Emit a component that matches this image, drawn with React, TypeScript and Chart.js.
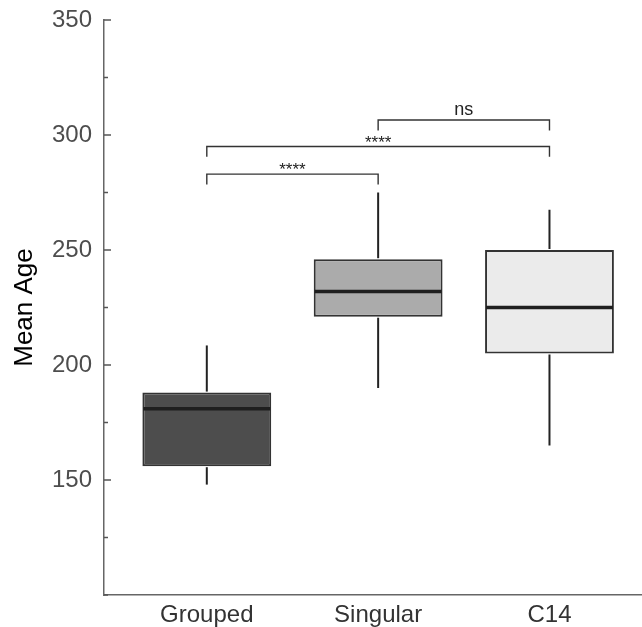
import React, { useEffect, useRef } from "react";
import { Chart, registerables } from "chart.js";

Chart.register(...registerables);

const categories = ["Grouped", "Singular", "C14"];
const whiskerLow = [148, 190, 165];
const q1 = [156, 221, 205];
const median = [181, 232, 225];
const q3 = [188, 246, 250];
const whiskerHigh = [208.5, 275, 267.5];
const boxColors = ["#4d4d4d", "#ababab", "#ebebeb"];

const yTickLabels = [150, 200, 250, 300, 350];

const bracketFrom = [1, 1, 2];
const bracketTo = [2, 3, 3];
const bracketLevel = [283, 295, 306.5];
const bracketDrop = [4.5, 4.5, 4.5];
const bracketLabels = ["****", "****", "ns"];

const FONT = "'Liberation Sans', Arial, Helvetica, sans-serif";

const extrasPlugin = {
  id: "boxExtras",
  afterDatasetsDraw(chart: any) {
    const { ctx, scales } = chart;
    const x = scales.x;
    const y = scales.y;
    const meta = chart.getDatasetMeta(0);
    ctx.save();
    const line = (x1: number, y1: number, x2: number, y2: number) => {
      ctx.beginPath();
      ctx.moveTo(x1, y1);
      ctx.lineTo(x2, y2);
      ctx.stroke();
    };
    categories.forEach((_, i) => {
      const bar = meta.data[i];
      const cx = x.getPixelForValue(i + 1);
      const half = bar.width / 2;
      ctx.strokeStyle = "#222";
      ctx.lineWidth = 2;
      line(cx, y.getPixelForValue(whiskerHigh[i]), cx, y.getPixelForValue(q3[i]) - 1);
      line(cx, y.getPixelForValue(q1[i]) + 1, cx, y.getPixelForValue(whiskerLow[i]));
      ctx.strokeStyle = "#1f1f1f";
      ctx.lineWidth = 3.5;
      const my = y.getPixelForValue(median[i]);
      line(cx - half + 1, my, cx + half - 1, my);
    });
    // significance brackets
    bracketLabels.forEach((lab, i) => {
      const x1 = x.getPixelForValue(bracketFrom[i]);
      const x2 = x.getPixelForValue(bracketTo[i]);
      const yl = y.getPixelForValue(bracketLevel[i]);
      const yd = y.getPixelForValue(bracketLevel[i] - bracketDrop[i]);
      ctx.strokeStyle = "#333";
      ctx.lineWidth = 1.4;
      ctx.beginPath();
      ctx.moveTo(x1, yd);
      ctx.lineTo(x1, yl);
      ctx.lineTo(x2, yl);
      ctx.lineTo(x2, yd);
      ctx.stroke();
      ctx.fillStyle = "#222";
      ctx.textAlign = "center";
      ctx.textBaseline = "alphabetic";
      if (lab === "ns") {
        ctx.font = `18px ${FONT}`;
        ctx.fillText(lab, (x1 + x2) / 2, yl - 5);
      } else {
        ctx.font = `17px ${FONT}`;
        ctx.fillText(lab, (x1 + x2) / 2, yl + 1);
      }
    });
    // inward ticks on y axis
    ctx.strokeStyle = "#555";
    ctx.lineWidth = 1.5;
    y.ticks.forEach((t: any) => {
      const py = y.getPixelForValue(t.value);
      const len = yTickLabels.includes(t.value) ? 7 : 4;
      line(y.right, py, y.right + len, py);
    });
    ctx.restore();
  },
};

export default function App() {
  const ref = useRef<HTMLCanvasElement>(null);
  useEffect(() => {
    const chart = new Chart(ref.current as HTMLCanvasElement, {
      type: "bar",
      data: {
        datasets: [
          {
            data: categories.map((_, i) => ({ x: i + 1, y: [q1[i], q3[i]] })) as any,
            backgroundColor: boxColors,
            borderColor: "#333",
            borderWidth: 2,
            borderSkipped: false,
            barPercentage: 0.94,
            categoryPercentage: 0.8,
          },
        ],
      },
      options: {
        animation: false,
        responsive: false,
        layout: { padding: { top: 20, right: 0, left: 0, bottom: 0 } },
        plugins: { legend: { display: false }, tooltip: { enabled: false } },
        scales: {
          x: {
            type: "linear",
            offset: false,
            min: 0.4,
            max: 3.54,
            grid: { display: false, drawTicks: false, offset: false },
            border: { display: true, color: "#666", width: 1.5 },
            afterBuildTicks: (s: any) => {
              s.ticks = categories.map((_, i) => ({ value: i + 1 }));
            },
            afterFit: (s: any) => {
              s.height = 32;
              s.paddingLeft = 0;
              s.paddingRight = 0;
            },
            ticks: {
              autoSkip: false,
              maxRotation: 0,
              padding: 6,
              color: "#333",
              font: { family: FONT, size: 24 },
              callback: (v: any) => categories[Math.round(v) - 1] ?? "",
            },
          },
          y: {
            min: 100,
            max: 350,
            grid: { display: false, drawTicks: false },
            border: { display: true, color: "#666", width: 1.5 },
            afterFit: (s: any) => {
              s.width = 104;
              s.paddingTop = 0;
              s.paddingBottom = 0;
            },
            ticks: {
              stepSize: 25,
              padding: 12,
              color: "#4d4d4d",
              font: { family: FONT, size: 24 },
              callback: (v: any) => (yTickLabels.includes(v) ? String(v) : ""),
            },
            title: {
              display: true,
              text: "Mean Age",
              color: "#000",
              padding: { top: 9, bottom: 0 },
              font: { family: FONT, size: 26 },
            },
          },
        },
      },
      plugins: [extrasPlugin],
    });
    return () => chart.destroy();
  }, []);
  return (
    <div style={{ position: "absolute", left: 0, top: 0, width: 642, height: 627, overflow: "hidden", background: "#fff" }}>
      <canvas ref={ref} width={642} height={627} style={{ display: "block" }} />
    </div>
  );
}
